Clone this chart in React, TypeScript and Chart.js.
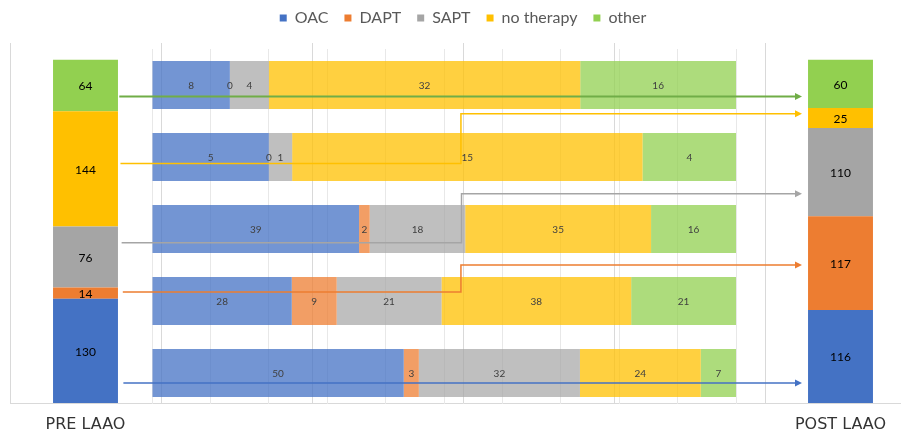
import React, { useEffect, useRef } from 'react';
import { Chart, registerables } from 'chart.js';

Chart.register(...registerables);

// Therapy categories (legend order, stack order bottom -> top)
const THERAPIES = ['OAC', 'DAPT', 'SAPT', 'no therapy', 'other'];

// Side stacked bars
const SIDE_LABELS = ['PRE LAAO', '', '', '', '', 'POST LAAO'];
const PRE_LAAO = [130, 14, 76, 144, 64];
const POST_LAAO = [116, 117, 110, 25, 60];

// Middle rows: post-LAAO group (top -> bottom), split by pre-LAAO therapy
const ROW_GROUPS = ['other', 'no therapy', 'SAPT', 'DAPT', 'OAC'];
const ROW_OAC = [8, 5, 39, 28, 50];
const ROW_DAPT = [0, 0, 2, 9, 3];
const ROW_SAPT = [4, 1, 18, 21, 32];
const ROW_NO_THERAPY = [32, 15, 35, 38, 24];
const ROW_OTHER = [16, 4, 16, 21, 7];
const ROWS = [ROW_OAC, ROW_DAPT, ROW_SAPT, ROW_NO_THERAPY, ROW_OTHER];

// Styles
const SOLID = ['#4472C4', '#ED7D31', '#A5A5A5', '#FFC000', '#92D050'];
const LIGHT = [
  'rgba(68,114,196,0.75)',
  'rgba(237,125,49,0.75)',
  'rgba(165,165,165,0.71)',
  'rgba(255,192,0,0.75)',
  'rgba(146,208,80,0.75)',
];

// Connector arrows (pre group -> post group), in middle-chart axis units
// x: percent axis, y: row index
const CONNECTORS = [
  { color: '#70AD47', width: 2, x0: -5.6, y0: 0.16, jog: null, y1: 0.16 },
  { color: '#FFC000', width: 1.5, x0: -5.4, y0: 1.09, jog: 52.9, y1: 0.4 },
  { color: '#A5A5A5', width: 1.5, x0: -5.2, y0: 2.19, jog: 53.0, y1: 1.51 },
  { color: '#ED7D31', width: 1.5, x0: -5.0, y0: 2.875, jog: 52.9, y1: 2.5 },
  { color: '#4472C4', width: 1.5, x0: -4.9, y0: 4.14, jog: null, y1: 4.14 },
];
const CONNECTOR_END_X = 111.3;

const sideLabelPlugin = {
  id: 'sideLabels',
  afterDatasetsDraw(chart: any) {
    const ctx = chart.ctx;
    ctx.save();
    ctx.font = '12px Lato';
    ctx.fillStyle = '#000000';
    ctx.textAlign = 'center';
    ctx.textBaseline = 'middle';
    chart.data.datasets.forEach((ds: any, di: number) => {
      chart.getDatasetMeta(di).data.forEach((el: any, i: number) => {
        const v = ds.data[i];
        if (v == null) return;
        const p = el.getCenterPoint();
        ctx.fillText(String(v), p.x, p.y + 1);
      });
    });
    ctx.restore();
  },
};

const midPlugin = {
  id: 'midOverlay',
  afterDatasetsDraw(chart: any) {
    const ctx = chart.ctx;
    const xs = chart.scales.x;
    const ys = chart.scales.y;
    ctx.save();
    CONNECTORS.forEach((a) => {
      const pts: number[][] = [[a.x0, a.y0]];
      if (a.jog != null) {
        pts.push([a.jog, a.y0]);
        pts.push([a.jog, a.y1]);
      }
      pts.push([CONNECTOR_END_X, a.y1]);
      const px = pts.map(([x, y]) => [xs.getPixelForValue(x), ys.getPixelForValue(y)]);
      const tip = px[px.length - 1];
      const headLen = 7;
      const headHalf = 3.5;
      ctx.strokeStyle = a.color;
      ctx.lineWidth = a.width;
      ctx.beginPath();
      ctx.moveTo(px[0][0], px[0][1]);
      for (let i = 1; i < px.length - 1; i++) ctx.lineTo(px[i][0], px[i][1]);
      ctx.lineTo(tip[0] - headLen + 1, tip[1]);
      ctx.stroke();
      ctx.fillStyle = a.color;
      ctx.beginPath();
      ctx.moveTo(tip[0], tip[1]);
      ctx.lineTo(tip[0] - headLen, tip[1] - headHalf);
      ctx.lineTo(tip[0] - headLen, tip[1] + headHalf);
      ctx.closePath();
      ctx.fill();
    });
    ctx.font = '10px Lato';
    ctx.fillStyle = '#404040';
    ctx.textAlign = 'center';
    ctx.textBaseline = 'middle';
    chart.data.datasets.forEach((ds: any, di: number) => {
      chart.getDatasetMeta(di).data.forEach((el: any, i: number) => {
        const p = el.getCenterPoint();
        ctx.fillText(String(ds.counts[i]), p.x, p.y + 1);
      });
    });
    ctx.restore();
  },
};

export default function App() {
  const sideRef = useRef<HTMLCanvasElement>(null);
  const midRef = useRef<HTMLCanvasElement>(null);

  useEffect(() => {
    const rowTotals = ROW_GROUPS.map((_, r) => ROWS.reduce((s, row) => s + row[r], 0));

    const side = new Chart(sideRef.current as HTMLCanvasElement, {
      type: 'bar',
      data: {
        labels: SIDE_LABELS,
        datasets: THERAPIES.map((t, i) => ({
          label: t,
          data: [PRE_LAAO[i], null, null, null, null, POST_LAAO[i]],
          backgroundColor: SOLID[i],
          borderWidth: 0,
          categoryPercentage: 1,
          barPercentage: 0.43,
        })),
      },
      options: {
        responsive: false,
        animation: false,
        layout: { padding: { left: 10, right: 0, top: -6, bottom: 0 } },
        plugins: {
          legend: {
            position: 'top',
            labels: {
              boxWidth: 7,
              boxHeight: 7,
              padding: 16,
              color: '#595959',
              font: { family: 'Lato', size: 16 },
            },
          },
          tooltip: { enabled: false },
        },
        scales: {
          x: {
            stacked: true,
            grid: { color: '#d9d9d9', drawTicks: false, offset: true },
            border: { color: '#d9d9d9' },
            ticks: { color: '#333333', padding: 12, font: { family: 'DejaVu Sans', size: 16 } },
            afterFit: (s: any) => {
              s.height = 34;
            },
          },
          xSpacer: {
            type: 'category',
            position: 'top',
            grid: { display: false },
            border: { display: false },
            ticks: { display: false },
            afterFit: (s: any) => {
              s.height = 7;
            },
          },
          y: { stacked: true, min: 0, max: 449, display: false },
        },
      } as any,
      plugins: [sideLabelPlugin],
    });

    const mid = new Chart(midRef.current as HTMLCanvasElement, {
      type: 'bar',
      data: {
        labels: ROW_GROUPS,
        datasets: THERAPIES.map((t, i) => ({
          label: t,
          data: ROWS[i].map((v, r) => (v / rowTotals[r]) * 100),
          counts: ROWS[i],
          backgroundColor: LIGHT[i],
          borderWidth: 0,
          categoryPercentage: 1,
          barPercentage: 0.667,
        })) as any,
      },
      options: {
        indexAxis: 'y',
        responsive: false,
        animation: false,
        layout: { padding: { left: 152, right: 165, top: 49, bottom: 28 } },
        plugins: { legend: { display: false }, tooltip: { enabled: false } },
        scales: {
          x: {
            type: 'linear',
            stacked: true,
            min: 0,
            max: 100,
            ticks: { stepSize: 10, display: false },
            grid: { color: '#e8e8e8', drawTicks: false },
            border: { display: false },
            afterFit: (s: any) => {
              s.height = 0;
            },
          },
          y: { stacked: true, display: false },
        },
      } as any,
      plugins: [midPlugin],
    });

    return () => {
      side.destroy();
      mid.destroy();
    };
  }, []);

  return (
    <div
      style={{
        position: 'fixed',
        left: 0,
        top: 0,
        width: 901,
        height: 437,
        overflow: 'hidden',
        background: '#ffffff',
      }}
    >
      <canvas
        ref={sideRef}
        width={916}
        height={437}
        style={{ position: 'absolute', left: 0, top: 0, width: 916, height: 437 }}
      />
      <div
        style={{ position: 'absolute', left: 0, top: 0, width: 901, height: 404, overflow: 'hidden' }}
      >
        <canvas
          ref={midRef}
          width={901}
          height={437}
          style={{ position: 'absolute', left: 0, top: 0, width: 901, height: 437 }}
        />
      </div>
    </div>
  );
}
